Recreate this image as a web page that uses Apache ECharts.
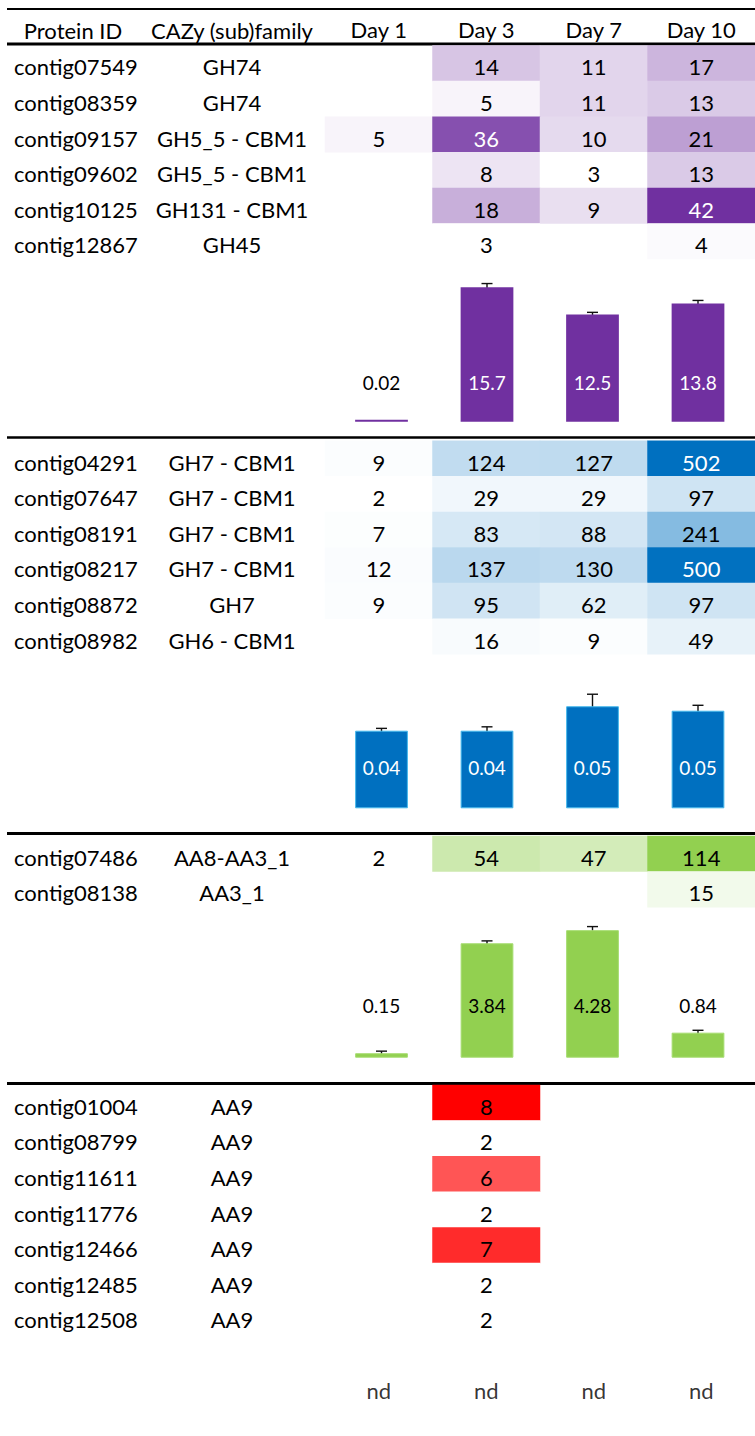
<!DOCTYPE html>
<html>
<head>
<meta charset="utf-8">
<script src="https://cdn.jsdelivr.net/npm/echarts@6/dist/echarts.min.js"></script>
<style>
html,body{margin:0;padding:0;background:#ffffff;}
#chart{width:755px;height:1436px;}
</style>
</head>
<body>
<div id="chart"></div>
<script>
// ---------------- DATA ----------------
const days = ['Day 1', 'Day 3', 'Day 7', 'Day 10'];
const headerId = 'Protein ID';
const headerFamily = 'CAZy (sub)family';

// Section 1 (purple)
const purpleIds = ['contig07549', 'contig08359', 'contig09157', 'contig09602', 'contig10125', 'contig12867'];
const purpleFamilies = ['GH74', 'GH74', 'GH5_5 - CBM1', 'GH5_5 - CBM1', 'GH131 - CBM1', 'GH45'];
const purpleCounts = [
  [null, 14, 11, 17],
  [null, 5, 11, 13],
  [5, 36, 10, 21],
  [null, 8, 3, 13],
  [null, 18, 9, 42],
  [null, 3, null, 4]
];
const purpleActivity = [0.02, 15.7, 12.5, 13.8];
const purpleError = [null, 0.42, 0.26, 0.35];

// Section 2 (blue)
const blueIds = ['contig04291', 'contig07647', 'contig08191', 'contig08217', 'contig08872', 'contig08982'];
const blueFamilies = ['GH7 - CBM1', 'GH7 - CBM1', 'GH7 - CBM1', 'GH7 - CBM1', 'GH7', 'GH6 - CBM1'];
const blueCounts = [
  [9, 124, 127, 502],
  [2, 29, 29, 97],
  [7, 83, 88, 241],
  [12, 137, 130, 500],
  [9, 95, 62, 97],
  [null, 16, 9, 49]
];
const blueActivity = [0.040, 0.040, 0.0526, 0.0503];
const blueError = [0.0012, 0.002, 0.0062, 0.0028];

// Section 3 (green)
const greenIds = ['contig07486', 'contig08138'];
const greenFamilies = ['AA8-AA3_1', 'AA3_1'];
const greenCounts = [
  [2, 54, 47, 114],
  [null, null, null, 15]
];
const greenActivity = [0.15, 3.84, 4.28, 0.84];
const greenError = [0.07, 0.08, 0.12, 0.08];

// Section 4 (red)
const redIds = ['contig01004', 'contig08799', 'contig11611', 'contig11776', 'contig12466', 'contig12485', 'contig12508'];
const redFamilies = ['AA9', 'AA9', 'AA9', 'AA9', 'AA9', 'AA9', 'AA9'];
const redCounts = [
  [null, 8, null, null],
  [null, 2, null, null],
  [null, 6, null, null],
  [null, 2, null, null],
  [null, 7, null, null],
  [null, 2, null, null],
  [null, 2, null, null]
];
const redActivity = [null, null, null, null];
const notDetermined = 'nd';

// ---------------- LAYOUT / STYLE ----------------
const FONT = 'Lato';
const FS = 22;
const ROW_H = 35.6;
const TABLE_LEFT = 325, TABLE_W = 438;
const BAR_LEFT = 328.75, BAR_W = 422;

const sections = [
  { ids: purpleIds, fams: purpleFamilies, counts: purpleCounts, color: '#7030A0', top: 45.5, darkWhite: true,
    act: purpleActivity, err: purpleError, base: 421.7, max: 18, pxPerUnit: 8.57, labelDist: 28,
    barColor: '#7030A0', border: null, insideText: '#ffffff', minH: 2 },
  { ids: blueIds, fams: blueFamilies, counts: blueCounts, color: '#0070C0', top: 440.7, darkWhite: true,
    act: blueActivity, err: blueError, base: 808.3, max: 0.06, pxPerUnit: 1940, labelDist: 30,
    barColor: '#0070C0', border: '#45b8ec', insideText: '#ffffff', minH: 0 },
  { ids: greenIds, fams: greenFamilies, counts: greenCounts, color: '#92D050', top: 836, darkWhite: false,
    act: greenActivity, err: greenError, base: 1057.7, max: 4.6, pxPerUnit: 29.8, labelDist: 41,
    barColor: '#92D050', border: '#a6dc70', insideText: '#000000', minH: 0 },
  { ids: redIds, fams: redFamilies, counts: redCounts, color: '#FF0000', top: 1085, darkWhite: false,
    act: redActivity, err: null, nd: true }
];

const rowRich = { a: { fontFamily: FONT, fontSize: FS, color: '#000', padding: [7, 0, 0, 0] } };

const grid = [], xAxis = [], yAxis = [], series = [], visualMap = [];

sections.forEach((s, si) => {
  // ---- table grid ----
  const gi = grid.length;
  grid.push({ left: TABLE_LEFT, top: s.top, width: TABLE_W, height: s.ids.length * ROW_H });
  const xi = xAxis.length;
  xAxis.push({
    type: 'category', gridIndex: gi, data: days, position: 'top',
    show: si === 0,
    axisLine: { show: false }, axisTick: { show: false }, splitLine: { show: false },
    axisLabel: { show: si === 0, interval: 0, fontFamily: FONT, fontSize: FS, color: '#000', margin: 5 }
  });
  const yi = yAxis.length;
  yAxis.push({
    type: 'category', gridIndex: gi, data: s.ids, inverse: true, position: 'left',
    axisLine: { show: false }, axisTick: { show: false }, splitLine: { show: false },
    axisLabel: { interval: 0, align: 'left', margin: TABLE_LEFT - 14, formatter: v => '{a|' + v + '}', rich: rowRich }
  });
  yAxis.push({
    type: 'category', gridIndex: gi, data: s.fams, inverse: true, position: 'left',
    axisLine: { show: false }, axisTick: { show: false }, splitLine: { show: false },
    axisLabel: { interval: 0, align: 'center', margin: TABLE_LEFT - 232, formatter: v => '{a|' + v + '}', rich: rowRich }
  });
  const vals = [];
  s.counts.forEach(r => r.forEach(v => { if (v != null) vals.push(v); }));
  const vmin = Math.min(...vals), vmax = Math.max(...vals);
  const data = [];
  s.counts.forEach((r, ri) => r.forEach((v, di) => {
    if (v == null) return;
    const t = (v - vmin) / (vmax - vmin);
    data.push({ value: [di, ri, v], label: { color: (s.darkWhite && t > 0.75) ? '#ffffff' : '#000000' } });
  }));
  const hi = series.length;
  series.push({
    type: 'heatmap', xAxisIndex: xi, yAxisIndex: yi, data: data,
    label: { show: true, fontFamily: FONT, fontSize: FS, offset: [0, 3.5], formatter: p => String(p.value[2]) },
    itemStyle: { borderWidth: 0 },
    emphasis: { disabled: true }
  });
  visualMap.push({
    type: 'continuous', show: false, seriesIndex: hi, dimension: 2,
    min: vmin, max: vmax, inRange: { color: ['#ffffff', s.color] }
  });

  // ---- activity grid ----
  if (s.nd) {
    const gj = grid.length;
    grid.push({ left: TABLE_LEFT, top: 1368, width: TABLE_W, height: 44 });
    const xj = xAxis.length;
    xAxis.push({ type: 'category', gridIndex: gj, data: days, show: false });
    const yj = yAxis.length;
    yAxis.push({ type: 'value', gridIndex: gj, min: 0, max: 1, show: false });
    series.push({
      type: 'scatter', xAxisIndex: xj, yAxisIndex: yj, symbolSize: 0,
      data: s.act.map((v, i) => [i, 0.5, v]),
      label: { show: true, position: 'inside', fontFamily: FONT, fontSize: FS, color: '#000',
        formatter: p => (p.value[2] == null ? notDetermined : String(p.value[2])) },
      emphasis: { disabled: true }
    });
    return;
  }
  const bh = s.max * s.pxPerUnit;
  const gj = grid.length;
  grid.push({ left: BAR_LEFT, top: s.base - bh, width: BAR_W, height: bh });
  const xj = xAxis.length;
  xAxis.push({ type: 'category', gridIndex: gj, data: days, show: false });
  const yj = yAxis.length;
  yAxis.push({ type: 'value', gridIndex: gj, min: 0, max: s.max, show: false });
  const labelTopUnits = (s.labelDist + 20) / s.pxPerUnit;
  series.push({
    type: 'bar', xAxisIndex: xj, yAxisIndex: yj, barWidth: '50%', barMinHeight: s.minH,
    data: s.act.map(v => ({
      value: v,
      label: { color: v > labelTopUnits ? s.insideText : '#000000' }
    })),
    itemStyle: { color: s.barColor, borderColor: s.border || s.barColor, borderWidth: s.border ? 1 : 0 },
    label: { show: true, position: 'insideBottom', distance: s.labelDist, fontFamily: FONT, fontSize: 19, lineHeight: 22,
      formatter: p => String(+(+p.value).toFixed(2)) },
    emphasis: { disabled: true }
  });
  series.push({
    type: 'custom', xAxisIndex: xj, yAxisIndex: yj, clip: false,
    data: s.act.map((v, i) => [i, v, s.err[i]]),
    encode: { x: 0, y: 1 },
    renderItem: function (params, api) {
      const e = api.value(2);
      if (!e) return null;
      const x = api.value(0), v = api.value(1);
      const a = api.coord([x, v + e]);
      const b = api.coord([x, v - e]);
      const hw = 5.5;
      const st = { stroke: '#111', lineWidth: 1.4 };
      return {
        type: 'group', children: [
          { type: 'line', shape: { x1: a[0], y1: a[1], x2: b[0], y2: b[1] }, style: st },
          { type: 'line', shape: { x1: a[0] - hw, y1: a[1], x2: a[0] + hw, y2: a[1] }, style: st },
          { type: 'line', shape: { x1: b[0] - hw, y1: b[1], x2: b[0] + hw, y2: b[1] }, style: st }
        ]
      };
    },
    emphasis: { disabled: true }
  });
});

// ---- rules & header texts ----
function hline(y, w) {
  return { type: 'line', shape: { x1: 7, y1: y, x2: 755, y2: y }, style: { stroke: '#000', lineWidth: w }, silent: true };
}
const graphic = [
  hline(9, 2),
  hline(44, 3),
  hline(437.5, 2.5),
  hline(833.5, 3),
  hline(1083.5, 3),
  { type: 'text', x: 73, y: 30, style: { text: headerId, textAlign: 'center', verticalAlign: 'middle', fontFamily: FONT, fontSize: FS, fill: '#000' } },
  { type: 'text', x: 232, y: 30, style: { text: headerFamily, textAlign: 'center', verticalAlign: 'middle', fontFamily: FONT, fontSize: FS, fill: '#000' } }
];

const chart = echarts.init(document.getElementById('chart'), null, { renderer: 'svg' });
chart.setOption({
  animation: false,
  backgroundColor: '#ffffff',
  grid: grid,
  xAxis: xAxis,
  yAxis: yAxis,
  visualMap: visualMap,
  series: series,
  graphic: graphic
});
</script>
</body>
</html>
